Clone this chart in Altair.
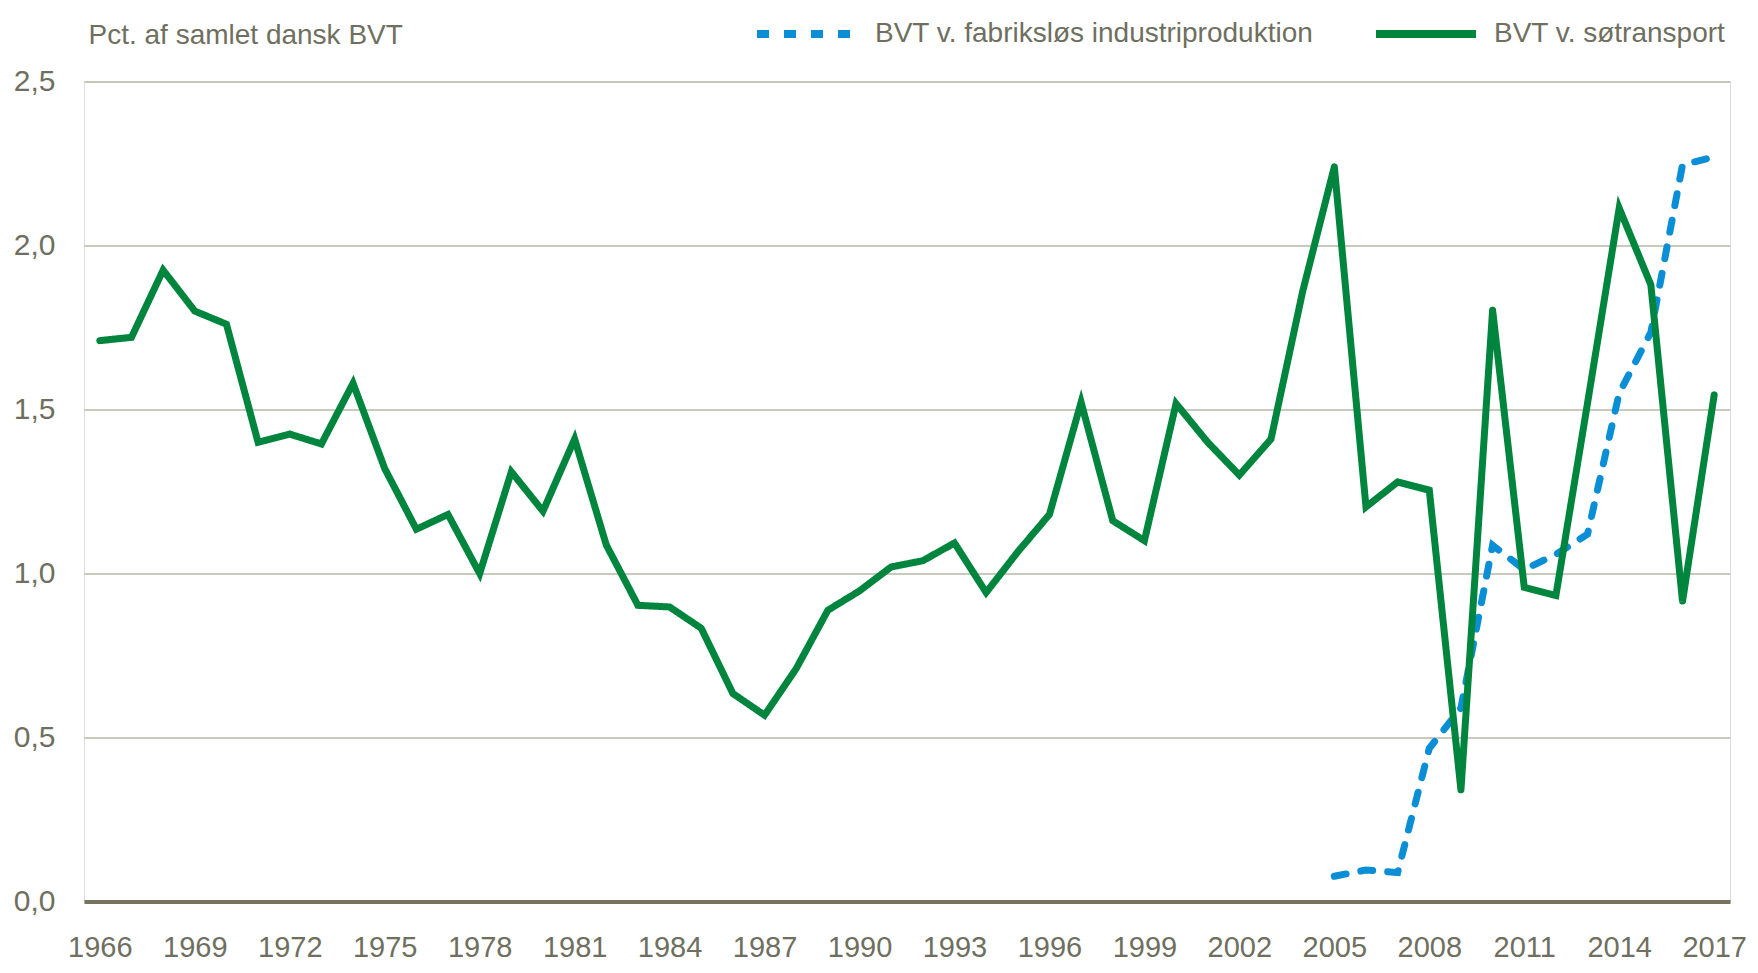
import altair as alt
import pandas as pd

years = list(range(1966, 2018))
soe = [1.71, 1.72, 1.925, 1.80, 1.76, 1.40, 1.425, 1.395, 1.58, 1.32,
       1.135, 1.18, 1.00, 1.31, 1.19, 1.41, 1.087, 0.903, 0.898, 0.833,
       0.634, 0.568, 0.71, 0.888, 0.947, 1.02, 1.039, 1.093, 0.942, 1.066,
       1.18, 1.522, 1.161, 1.10, 1.518, 1.40, 1.30, 1.41, 1.86, 2.24,
       1.203, 1.279, 1.254, 0.34, 1.803, 0.958, 0.933, 1.52, 2.114, 1.88,
       0.915, 1.544]
fab_years = list(range(2005, 2018))
fab = [0.077, 0.096, 0.088, 0.467, 0.59, 1.086, 1.012, 1.058, 1.12, 1.55,
       1.735, 2.246, 2.27]

name_fab = "BVT v. fabriksløs industriproduktion"
name_soe = "BVT v. søtransport"
y_ticks = [0.0, 0.5, 1.0, 1.5, 2.0, 2.5]
x_ticks = [str(y) for y in range(1966, 2018, 3)]

rows = [{"year": str(y), "value": v, "series": name_fab} for y, v in zip(fab_years, fab)]
rows += [{"year": str(y), "value": v, "series": name_soe} for y, v in zip(years, soe)]
df = pd.DataFrame(rows)

FONT = "Liberation Sans, Arial, sans-serif"
TXT = "#6f6f5f"

chart = alt.Chart(df).mark_line(strokeWidth=7, strokeCap="round", strokeJoin="miter").encode(
    x=alt.X("year:O", sort=[str(y) for y in years],
            scale=alt.Scale(type="point", padding=0.5, domain=[str(y) for y in years]),
            axis=alt.Axis(title=None, values=x_ticks, labelAngle=0, ticks=False, grid=False,
                          domainColor="#76745f", domainWidth=4,
                          labelFont=FONT, labelFontSize=29, labelColor=TXT,
                          labelPadding=32, labelBaseline="top")),
    y=alt.Y("value:Q", scale=alt.Scale(domain=[0, 2.5], nice=False, zero=True),
            axis=alt.Axis(title="Pct. af samlet dansk BVT", values=y_ticks,
                          labelExpr="replace(format(datum.value, '.1f'), '.', ',')",
                          ticks=False, domain=False, grid=True,
                          gridColor="#b9b7a9", gridWidth=1.5,
                          labelFont=FONT, labelFontSize=30, labelColor=TXT, labelPadding=29,
                          titleAngle=0, titleX=4, titleY=-38, titleAlign="left",
                          titleBaseline="alphabetic", titleFont=FONT, titleFontSize=28,
                          titleFontWeight="normal", titleColor=TXT)),
    color=alt.Color("series:N",
                    scale=alt.Scale(domain=[name_fab, name_soe], range=["#0a8fd6", "#00853e"]),
                    legend=alt.Legend(title=None, orient="none", direction="horizontal",
                                      legendX=669, legendY=-101.5, symbolType="stroke",
                                      symbolSize=10000, symbolStrokeWidth=8,
                                      labelFont=FONT, labelFontSize=28, labelColor=TXT,
                                      labelOffset=14, columnPadding=46, padding=0,
                                      labelLimit=700)),
    strokeDash=alt.StrokeDash("series:N",
                              scale=alt.Scale(domain=[name_fab, name_soe], range=[[12, 15], [1, 0]]),
                              legend=None),
).properties(
    width=1646, height=820,
    autosize=alt.AutoSizeParams(type="none"),
    padding={"left": 76, "top": 73.5, "right": 20, "bottom": 63},
).configure_view(stroke=None).configure(background="white")

chart.save("out.html", embed_options={"renderer": "svg", "actions": False})
